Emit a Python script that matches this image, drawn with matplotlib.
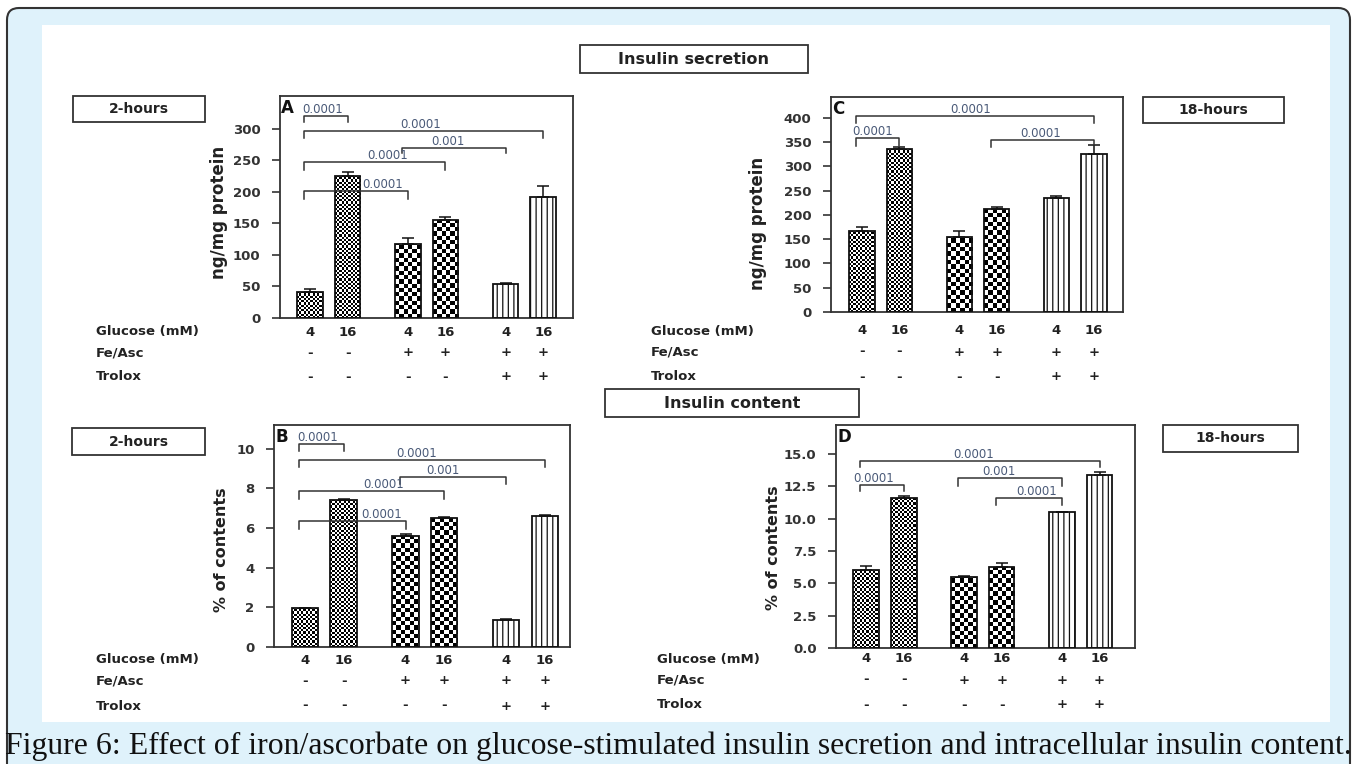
import numpy as np
import matplotlib
matplotlib.use('Agg')
import matplotlib.pyplot as plt
from matplotlib.patches import Rectangle, FancyBboxPatch
from matplotlib.transforms import blended_transform_factory

plt.rcParams['font.family'] = ['DejaVu Sans']
plt.rcParams['hatch.linewidth'] = 0.9

W, H = 1357, 764

# bar layout shared by all four panels
positions = [0, 1, 2.6, 3.6, 5.2, 6.2]
patterns = ['fine', 'fine', 'coarse', 'coarse', 'lines', 'lines']
glucose = ['4', '16', '4', '16', '4', '16']
fe_asc = ['-', '-', '+', '+', '+', '+']
trolox = ['-', '-', '-', '-', '+', '+']

# A: insulin secretion 2 h (ng/mg protein)
sec_2h = [42, 225, 117, 156, 54, 192]
sec_2h_err = [4, 7, 10, 4, 1.5, 18]
# C: insulin secretion 18 h
sec_18h = [167, 336, 155, 212, 235, 326]
sec_18h_err = [8, 3, 11, 5, 5, 18]
# B: insulin content 2 h (% of contents)
cont_2h = [1.95, 7.42, 5.62, 6.53, 1.38, 6.63]
cont_2h_err = [0.03, 0.05, 0.1, 0.05, 0.02, 0.05]
# D: insulin content 18 h
cont_18h = [6.02, 11.57, 5.5, 6.27, 10.53, 13.38]
cont_18h_err = [0.3, 0.2, 0.05, 0.3, 0.02, 0.2]

# significance brackets: (bar i, bar j, top, left leg end, right leg end, label x, p)
brk_A = [(0, 1, 321, 310, 310, 0.32, '0.0001'),
         (0, 5, 296, 286, 286, 2.93, '0.0001'),
         (2, 4, 269, 261, 261, 3.67, '0.001'),
         (0, 3, 248, 234, 234, 2.07, '0.0001'),
         (0, 2, 201, 188, 188, 1.94, '0.0001')]
brk_C = [(0, 5, 403, 390, 390, 2.91, '0.0001'),
         (0, 1, 359, 343, 343, 0.29, '0.0001'),
         (3, 5, 355, 340, 344, 4.79, '0.0001')]
brk_B = [(0, 1, 10.25, 9.9, 9.9, 0.34, '0.0001'),
         (0, 5, 9.44, 9.1, 9.1, 2.89, '0.0001'),
         (2, 4, 8.6, 8.23, 8.23, 3.57, '0.001'),
         (0, 3, 7.89, 7.45, 7.45, 2.04, '0.0001'),
         (0, 2, 6.36, 5.94, 5.94, 1.99, '0.0001')]
brk_D = [(0, 5, 14.46, 14.0, 14.0, 2.86, '0.0001'),
         (0, 1, 12.6, 12.14, 12.14, 0.19, '0.0001'),
         (2, 4, 13.12, 12.5, 12.5, 3.53, '0.001'),
         (3, 4, 11.57, 11.05, 11.05, 4.54, '0.0001')]

caption = ('Figure 6: Effect of iron/ascorbate on glucose-stimulated insulin '
           'secretion and intracellular insulin content.')

fig = plt.figure(figsize=(W / 100, H / 100), dpi=100)
bg = fig.add_axes([0, 0, 1, 1], zorder=-5)
bg.set_xlim(0, W)
bg.set_ylim(H, 0)
bg.axis('off')
bg.add_patch(FancyBboxPatch((7, 8), 1343, 800,
                            boxstyle='round,pad=0,rounding_size=12',
                            fc='#dff2fb', ec='#333333', lw=1.5))
bg.add_patch(Rectangle((42, 25), 1288, 697, fc='white', ec='none'))


def label_box(l, t, r, b, text, size):
    bg.add_patch(Rectangle((l, t), r - l, b - t, fc='white', ec='#333333', lw=1.3))
    bg.text((l + r) / 2, (t + b) / 2, text, ha='center', va='center',
            fontweight='bold', fontsize=size, color='#222222')


def draw_panel(box, xlim, ylim, means, errs, ticks, fmt, letter, brackets):
    l, t, r, b = box
    ax = fig.add_axes([l / W, 1 - b / H, (r - l) / W, (b - t) / H])
    ppx = (r - l) / (xlim[1] - xlim[0])
    ppy = (b - t) / (ylim[1] - ylim[0])
    fills = ax.bar(positions, means, width=0.68, color='white', edgecolor='none', zorder=1)
    for bar, pat in zip(fills, patterns):
        if pat == 'lines':
            continue
        cell = 2.2 if pat == 'fine' else 4.3
        x0, y0 = bar.get_x(), bar.get_y()
        nx = int(np.ceil(bar.get_width() * ppx / cell))
        ny = int(np.ceil(bar.get_height() * ppy / cell))
        img = np.add.outer(np.arange(ny), np.arange(nx)) % 2
        im = ax.imshow(img, cmap='gray_r', vmin=0, vmax=1, origin='lower',
                       interpolation='nearest', aspect='auto', zorder=1.5,
                       extent=(x0, x0 + nx * cell / ppx, y0, y0 + ny * cell / ppy))
        im.set_clip_path(bar)
    edges = ax.bar(positions, means, width=0.68, facecolor='none',
                   edgecolor='#111111', lw=1.3, zorder=3)
    for bar, pat in zip(edges, patterns):
        if pat == 'lines':
            bar.set_hatch('|||')
    ax.errorbar(positions, means, yerr=[np.zeros(len(errs)), errs], fmt='none',
                ecolor='#111111', elinewidth=1.1, capsize=4, capthick=1.1, zorder=4)
    for i, j, ytop, yl, yr, lx, lab in brackets:
        x0, x1 = positions[i] - 0.15, positions[j]
        ax.plot([x0, x0, x1, x1], [yl, ytop, ytop, yr], color='#333333', lw=1.1, zorder=5)
        ax.text(lx, ytop, lab, ha='center', va='bottom', fontsize=8.5,
                color='#4a5a78', zorder=6)
    ax.text(0.004, 0.985, letter, transform=ax.transAxes, ha='left', va='top',
            fontweight='bold', fontsize=12, color='#111111')
    ax.set_xlim(*xlim)
    ax.set_ylim(*ylim)
    ax.set_xticks([])
    ax.set_yticks(ticks)
    ax.set_yticklabels([fmt.format(v) for v in ticks], fontweight='bold',
                       fontsize=9.5, color='#333333')
    ax.tick_params(axis='y', direction='out', length=6, width=1.2, pad=8, color='#333333')
    for s in ax.spines.values():
        s.set_linewidth(1.3)
        s.set_color('#333333')
    return ax


def draw_table(ax, label_x, row_ys):
    tr = blended_transform_factory(ax.transData, bg.transData)
    rows = [('Glucose (mM)', glucose), ('Fe/Asc', fe_asc), ('Trolox', trolox)]
    for (name, vals), y in zip(rows, row_ys):
        bg.text(label_x, y, name, ha='left', va='center', fontweight='bold',
                fontsize=9.5, color='#222222')
        for p, v in zip(positions, vals):
            ax.text(p, y, v, transform=tr, ha='center', va='center',
                    fontweight='bold', fontsize=9.5, color='#222222')


axA = draw_panel((280, 96, 573, 318), (-0.8, 6.99), (0, 352), sec_2h, sec_2h_err,
                 [0, 50, 100, 150, 200, 250, 300], '{:.0f}', 'A', brk_A)
axC = draw_panel((831, 97, 1123, 312), (-0.83, 6.98), (0, 443), sec_18h, sec_18h_err,
                 [0, 50, 100, 150, 200, 250, 300, 350, 400], '{:.0f}', 'C', brk_C)
axB = draw_panel((274, 425, 570, 647), (-0.8, 6.85), (0, 11.2), cont_2h, cont_2h_err,
                 [0, 2, 4, 6, 8, 10], '{:.0f}', 'B', brk_B)
axD = draw_panel((836, 425, 1135, 648), (-0.8, 7.14), (0, 17.25), cont_18h, cont_18h_err,
                 [0, 2.5, 5, 7.5, 10, 12.5, 15], '{:.1f}', 'D', brk_D)

draw_table(axA, 96, [332, 353, 377])
draw_table(axC, 651, [331, 352, 377])
draw_table(axB, 96, [660, 681, 706])
draw_table(axD, 657, [659, 680, 705])

bg.text(219, 212, 'ng/mg protein', rotation=90, ha='center', va='center',
        fontweight='bold', fontsize=12, color='#222222')
bg.text(758, 223, 'ng/mg protein', rotation=90, ha='center', va='center',
        fontweight='bold', fontsize=12, color='#222222')
bg.text(222, 550, '% of contents', rotation=90, ha='center', va='center',
        fontweight='bold', fontsize=11.5, color='#222222')
bg.text(773, 548, '% of contents', rotation=90, ha='center', va='center',
        fontweight='bold', fontsize=11.5, color='#222222')

label_box(580, 45, 808, 73, 'Insulin secretion', 11.5)
label_box(605, 389, 859, 417, 'Insulin content', 11.5)
label_box(73, 96, 205, 122, '2-hours', 10)
label_box(72, 428, 205, 455, '2-hours', 10)
label_box(1143, 97, 1284, 123, '18-hours', 10)
label_box(1163, 425, 1298, 452, '18-hours', 10)

cap = bg.text(5, 746, caption, ha='left', va='center', fontsize=20,
              family=['Liberation Serif', 'DejaVu Serif'], color='#111111')
fig.canvas.draw()
bb = cap.get_window_extent()
cap.set_fontsize(20 * 1345 / bb.width)

fig.savefig('out.png', dpi=100)
